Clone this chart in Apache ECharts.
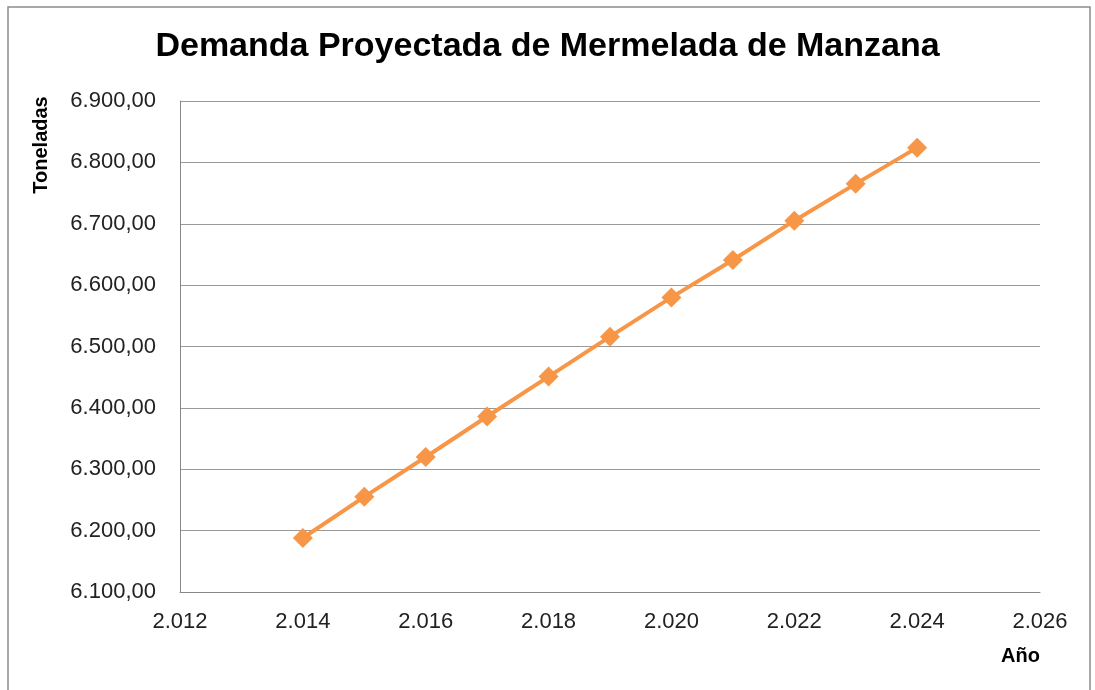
<!DOCTYPE html>
<html>
<head>
<meta charset="utf-8">
<title>Demanda Proyectada de Mermelada de Manzana</title>
<script src="https://cdn.jsdelivr.net/npm/echarts@6/dist/echarts.min.js"></script>
<style>
  html, body { margin: 0; padding: 0; background: #fff; }
  #chart { width: 1095px; height: 690px; }
</style>
</head>
<body>
<div id="chart"></div>
<script>
// datos
var anios = [2014, 2015, 2016, 2017, 2018, 2019, 2020, 2021, 2022, 2023, 2024];
var demanda = [6188, 6255, 6320, 6386, 6451, 6516, 6580, 6641, 6705, 6765, 6824];

// ejes
var xMin = 2012, xMax = 2026, xPaso = 2;
var yMin = 6100, yMax = 6900, yPaso = 100;

// formato con punto de miles (es)
function miles (n) {
  return String(n).replace(/\B(?=(\d{3})+(?!\d))/g, '.');
}

var chart = echarts.init(document.getElementById('chart'));
var fuente = '"Liberation Sans", Arial, sans-serif';

var option = {
  backgroundColor: '#fff',
  animation: false,
  title: {
    text: 'Demanda Proyectada de Mermelada de Manzana',
    left: 'center',
    top: 25,
    textStyle: { fontFamily: fuente, fontSize: 34, fontWeight: 'bold', color: '#000' }
  },
  graphic: [{
    type: 'rect',
    shape: { x: 8, y: 7, width: 1082, height: 700 },
    style: { fill: 'none', stroke: '#8c8c8c', lineWidth: 1.5 },
    silent: true
  }, {
    // título del eje Y, girado a la izquierda de las etiquetas
    type: 'text',
    x: 41,
    y: 145,
    rotation: Math.PI / 2,
    style: {
      text: 'Toneladas',
      font: 'bold 20px "Liberation Sans", Arial, sans-serif',
      fill: '#000',
      align: 'center',
      verticalAlign: 'middle'
    },
    silent: true
  }],
  grid: { left: 180, right: 55, top: 101, bottom: 98 },
  xAxis: {
    type: 'value',
    min: xMin,
    max: xMax,
    interval: xPaso,
    name: 'Año',
    nameLocation: 'end',
    nameGap: 0,
    nameTextStyle: {
      fontFamily: fuente, fontSize: 20, fontWeight: 'bold', color: '#000',
      align: 'right', verticalAlign: 'top', padding: [54, 0, 0, 0]
    },
    axisLine: { show: true, lineStyle: { color: '#888', width: 1 } },
    axisTick: { show: false },
    splitLine: { show: false },
    axisLabel: {
      margin: 19,
      fontFamily: fuente, fontSize: 22, color: '#222',
      formatter: function (v) { return miles(v); }
    }
  },
  yAxis: {
    type: 'value',
    min: yMin,
    max: yMax,
    interval: yPaso,
    axisLine: { show: true, lineStyle: { color: '#888', width: 1 } },
    axisTick: { show: false },
    splitLine: { show: true, lineStyle: { color: '#999', width: 1 } },
    axisLabel: {
      margin: 24,
      fontFamily: fuente, fontSize: 22, color: '#222',
      formatter: function (v) { return miles(v) + ',00'; }
    }
  },
  series: [{
    type: 'line',
    data: anios.map(function (a, i) { return [a, demanda[i]]; }),
    symbol: 'diamond',
    symbolSize: 20,
    itemStyle: { color: '#F79646' },
    lineStyle: { color: '#F79646', width: 4 }
  }]
};

chart.setOption(option);
</script>
</body>
</html>
